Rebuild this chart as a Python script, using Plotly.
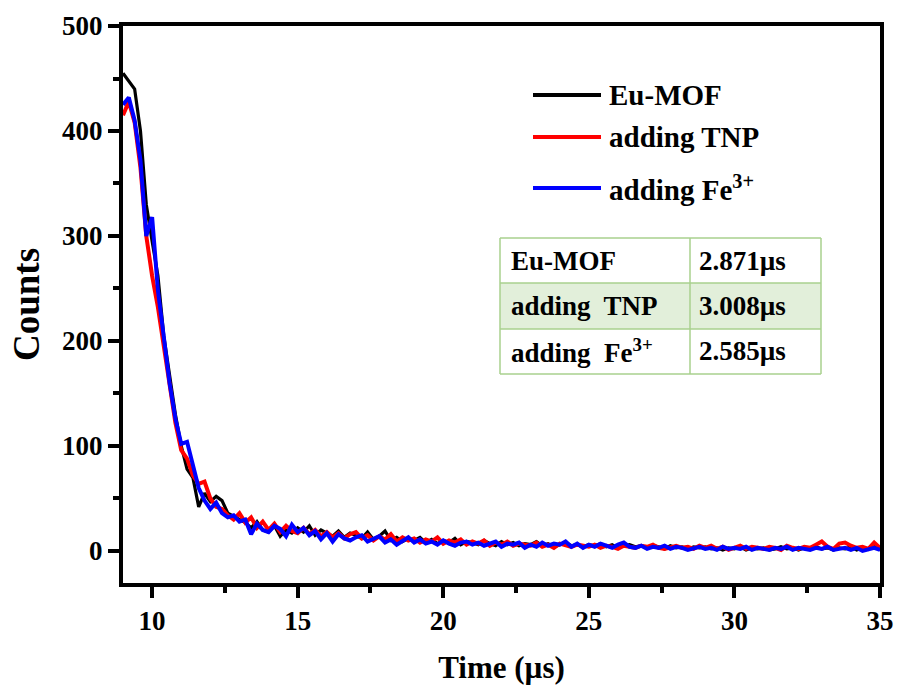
import plotly.graph_objects as go

# Sampling times (µs)
time_us = [
    9.0, 9.2, 9.4, 9.6, 9.8, 10.0, 10.2, 10.4, 10.6, 10.8,
    11.0, 11.2, 11.4, 11.6, 11.8, 12.0, 12.2, 12.4, 12.6, 12.8,
    13.0, 13.2, 13.4, 13.6, 13.8, 14.0, 14.2, 14.4, 14.6, 14.8,
    15.0, 15.2, 15.4, 15.6, 15.8, 16.0, 16.2, 16.4, 16.6, 16.8,
    17.0, 17.2, 17.4, 17.6, 17.8, 18.0, 18.2, 18.4, 18.6, 18.8,
    19.0, 19.2, 19.4, 19.6, 19.8, 20.0, 20.2, 20.4, 20.6, 20.8,
    21.0, 21.2, 21.4, 21.6, 21.8, 22.0, 22.2, 22.4, 22.6, 22.8,
    23.0, 23.2, 23.4, 23.6, 23.8, 24.0, 24.2, 24.4, 24.6, 24.8,
    25.0, 25.2, 25.4, 25.6, 25.8, 26.0, 26.2, 26.4, 26.6, 26.8,
    27.0, 27.2, 27.4, 27.6, 27.8, 28.0, 28.2, 28.4, 28.6, 28.8,
    29.0, 29.2, 29.4, 29.6, 29.8, 30.0, 30.2, 30.4, 30.6, 30.8,
    31.0, 31.2, 31.4, 31.6, 31.8, 32.0, 32.2, 32.4, 32.6, 32.8,
    33.0, 33.2, 33.4, 33.6, 33.8, 34.0, 34.2, 34.4, 34.6, 34.8,
    35.0,
]

counts_eu_mof = [
    455, 448, 440, 400, 330, 295, 262, 205, 165, 130,
    100, 78, 70, 42, 55, 47, 52, 48, 36, 33,
    30, 27, 22, 28, 20, 18, 24, 14, 20, 17,
    22, 18, 24, 15, 20, 17, 14, 19, 13, 17,
    15, 12, 18, 11, 14, 19, 10, 13, 9, 12,
    10, 13, 8, 11, 7, 10, 8, 12, 6, 9,
    8, 6, 10, 7, 5, 9, 6, 8, 5, 7,
    6, 9, 5, 7, 4, 6, 8, 5, 6, 4,
    6, 5, 7, 4, 6, 3, 5, 6, 4, 5,
    3, 5, 4, 2, 5, 3, 4, 2, 4, 3,
    4, 2, 3, 1, 3, 2, 4, 1, 3, 2,
    3, 1, 2, 4, 2, 3, 1, 3, 2, 4,
    2, 3, 1, 3, 2, 4, 1, 3, 2, 4,
    1,
]

counts_tnp = [
    415, 428, 408, 365, 300, 262, 232, 195, 158, 122,
    96, 88, 72, 64, 66, 50, 42, 40, 34, 30,
    36, 27, 32, 22, 28, 20, 26, 18, 24, 19,
    17, 22, 16, 20, 14, 18, 13, 17, 12, 16,
    18, 12, 15, 10, 14, 11, 16, 9, 13, 10,
    12, 8, 11, 9, 13, 7, 10, 8, 11, 6,
    9, 7, 10, 5, 8, 6, 9, 5, 7, 6,
    5, 8, 4, 6, 3, 7, 5, 4, 6, 5,
    4, 6, 3, 5, 4, 2, 5, 4, 3, 5,
    4, 6, 3, 2, 4, 5, 3, 4, 2, 5,
    3, 5, 2, 4, 1, 3, 5, 2, 4, 3,
    2, 4, 3, 1, 5, 3, 2, 4, 3, 6,
    9, 4, 2, 7, 8, 5, 3, 4, 2, 8,
    3,
]

counts_fe = [
    425, 432, 410, 372, 300, 318, 248, 200, 160, 126,
    102, 104, 80, 60, 48, 40, 46, 36, 32, 34,
    28, 30, 16, 26, 20, 18, 24, 21, 14, 25,
    18, 22, 15, 19, 11, 17, 9, 16, 12, 10,
    13, 15, 9, 12, 14, 8, 11, 6, 10, 13,
    8, 11, 7, 9, 6, 10, 7, 5, 8, 9,
    6, 8, 5, 7, 9, 4, 7, 6, 8, 3,
    6, 4, 8, 5, 7, 6, 9, 4, 7, 3,
    6, 4, 7, 5, 3, 6, 8, 4, 3, 5,
    2, 4, 3, 5, 2, 4, 3, 1, 3, 4,
    2, 3, 1, 4, 2, 3, 2, 4, 1, 3,
    2, 1, 3, 2, 4, 1, 3, 2, 1, 3,
    2, 4, 1, 2, 3, 1, 3, 0, 2, 3,
    1,
]

series_names = ["Eu-MOF", "adding TNP", "adding Fe<sup>3+</sup>"]
series_colors = ["#000000", "#ff0000", "#0000ff"]
series_values = [counts_eu_mof, counts_tnp, counts_fe]

table_labels = ["Eu-MOF", "adding  TNP", "adding  Fe<sup>3+</sup>"]
table_lifetimes = ["2.871\u00b5s", "3.008\u00b5s", "2.585\u00b5s"]

x_ticks = [10, 15, 20, 25, 30, 35]
y_ticks = [0, 100, 200, 300, 400, 500]

FONT = "Liberation Serif, Times New Roman, serif"

W, H = 899, 688
L, R, T, B = 123, 19, 26, 105
PW, PH = W - L - R, H - T - B


def px(xp):
    return (xp - L) / PW


def py(yp):
    return (H - B - yp) / PH


fig = go.Figure()
widths = [3.2, 4, 4]
for name, color, vals, w in zip(series_names, series_colors, series_values, widths):
    fig.add_trace(go.Scatter(x=time_us, y=vals, mode="lines", name=name,
                             line=dict(color=color, width=w), showlegend=False))

shapes = []
annotations = []

# manual legend
legend_rows = [95, 137, 188]
for name, color, yy in zip(series_names, series_colors, legend_rows):
    shapes.append(dict(type="line", xref="paper", yref="paper",
                       x0=px(533), x1=px(601), y0=py(yy), y1=py(yy),
                       line=dict(color=color, width=4)))
    annotations.append(dict(xref="paper", yref="paper", x=px(607), y=py(yy),
                            text="<b>%s</b>" % name, showarrow=False,
                            xanchor="left", yanchor="middle",
                            font=dict(family=FONT, size=29, color="black")))

# lifetime table
row_edges = [238, 283, 329, 374]
col_edges = [500, 690, 821]
border = "#a9d18e"
shapes.append(dict(type="rect", xref="paper", yref="paper",
                   x0=px(500), x1=px(821), y0=py(row_edges[0]), y1=py(row_edges[3]),
                   fillcolor="white", line=dict(width=0), layer="above"))
shapes.append(dict(type="rect", xref="paper", yref="paper",
                   x0=px(500), x1=px(821), y0=py(row_edges[1]), y1=py(row_edges[2]),
                   fillcolor="#e2efda", line=dict(width=0), layer="above"))
for ye in row_edges:
    shapes.append(dict(type="line", xref="paper", yref="paper",
                       x0=px(500), x1=px(821), y0=py(ye), y1=py(ye),
                       line=dict(color=border, width=1.5)))
for xe in col_edges:
    shapes.append(dict(type="line", xref="paper", yref="paper",
                       x0=px(xe), x1=px(xe), y0=py(row_edges[0]), y1=py(row_edges[3]),
                       line=dict(color=border, width=1.5)))
for i, (lab, val) in enumerate(zip(table_labels, table_lifetimes)):
    yc = (row_edges[i] + row_edges[i + 1]) / 2
    annotations.append(dict(xref="paper", yref="paper", x=px(509), y=py(yc),
                            text="<b>%s</b>" % lab, showarrow=False,
                            xanchor="left", yanchor="middle",
                            font=dict(family=FONT, size=27, color="black")))
    annotations.append(dict(xref="paper", yref="paper", x=px(697), y=py(yc),
                            text="<b>%s</b>" % val, showarrow=False,
                            xanchor="left", yanchor="middle",
                            font=dict(family=FONT, size=27, color="black")))

fig.update_layout(
    width=W, height=H,
    margin=dict(l=L, r=R, t=T, b=B),
    paper_bgcolor="white", plot_bgcolor="white",
    shapes=shapes, annotations=annotations,
    showlegend=False,
)

fig.update_xaxes(
    range=[9, 35], tickvals=x_ticks, ticktext=["<b>%d</b>" % v for v in x_ticks],
    showline=True, linecolor="black", linewidth=4, mirror=True,
    ticks="outside", ticklen=11, tickwidth=3.5, tickcolor="black",
    minor=dict(tickvals=[12.5, 17.5, 22.5, 27.5, 32.5], ticks="outside",
               ticklen=6, tickwidth=3.5, tickcolor="black"),
    showgrid=False, zeroline=False, automargin=False,
    tickfont=dict(family=FONT, size=27, color="black"),
    title=dict(text="<b>Time (\u00b5s)</b>", standoff=22,
               font=dict(family=FONT, size=31, color="black")),
)
fig.update_yaxes(
    range=[-30.5, 500], tickvals=y_ticks, ticktext=["<b>%d</b>" % v for v in y_ticks],
    showline=True, linecolor="black", linewidth=4, mirror=True,
    ticks="outside", ticklen=11, tickwidth=3.5, tickcolor="black",
    minor=dict(tickvals=[50, 150, 250, 350, 450], ticks="outside",
               ticklen=6, tickwidth=3.5, tickcolor="black"),
    showgrid=False, zeroline=False, automargin=False,
    tickfont=dict(family=FONT, size=27, color="black"),
    title=dict(text="<b>Counts</b>", standoff=12,
               font=dict(family=FONT, size=37, color="black")),
)

fig.write_html("out.html")
